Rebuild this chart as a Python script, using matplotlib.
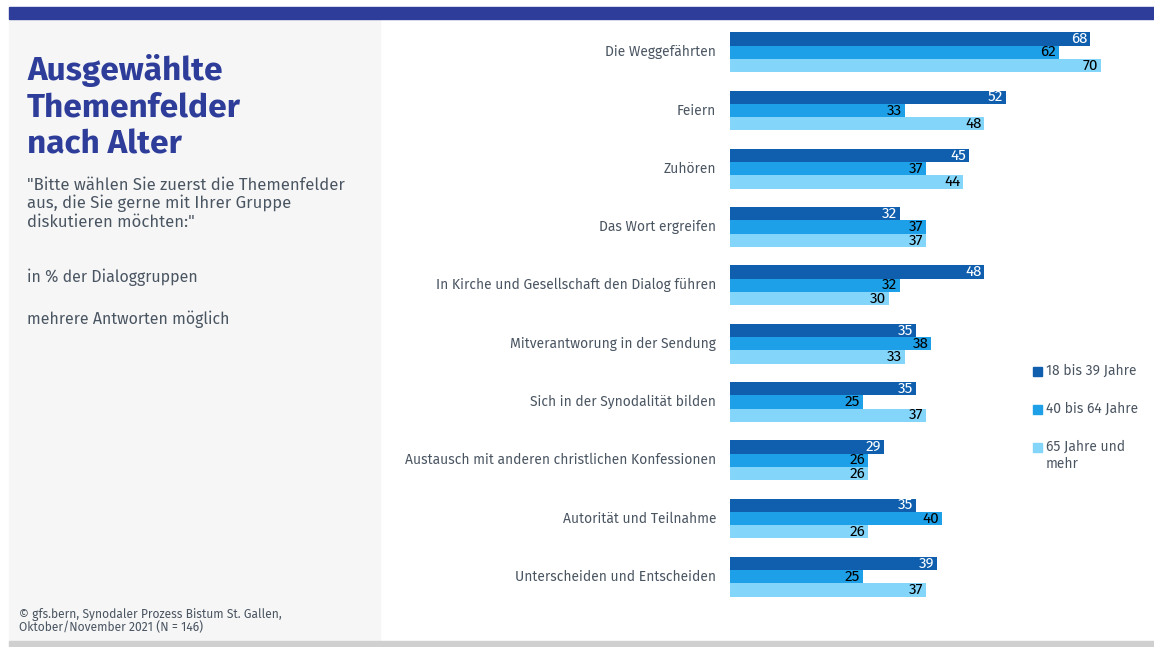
import matplotlib.pyplot as plt
from matplotlib.patches import Rectangle

categories = ["Die Weggefährten", "Feiern", "Zuhören", "Das Wort ergreifen",
              "In Kirche und Gesellschaft den Dialog führen",
              "Mitverantworung in der Sendung", "Sich in der Synodalität bilden",
              "Austausch mit anderen christlichen Konfessionen",
              "Autorität und Teilnahme", "Unterscheiden und Entscheiden"]
age_18_39 = [68, 52, 45, 32, 48, 35, 35, 29, 35, 39]
age_40_64 = [62, 33, 37, 37, 32, 38, 25, 26, 40, 25]
age_65 = [70, 48, 44, 37, 30, 33, 37, 26, 26, 37]
series_names = ["18 bis 39 Jahre", "40 bis 64 Jahre", "65 Jahre und\nmehr"]

colors = ["#0f5fae", "#1ea0e8", "#83d5fa"]
text_grey = "#4a5562"
title_blue = "#2e3d99"

plt.rcParams['font.family'] = ['Fira Sans', 'Lato', 'DejaVu Sans']

W, H = 1154, 647
fig = plt.figure(figsize=(W / 100, H / 100), dpi=100)
fig.patch.set_facecolor("white")

def px(x, y):
    return x / W, 1 - y / H

# background pieces
fig.patches.append(Rectangle(px(9, 641), 371 / W, 622 / H, transform=fig.transFigure,
                             color="#f6f6f6", zorder=0))
fig.patches.append(Rectangle(px(9, 19), (W - 9) / W, 12 / H, transform=fig.transFigure,
                             color=title_blue, zorder=0))
fig.patches.append(Rectangle(px(9, 647), (W - 9) / W, 6 / H, transform=fig.transFigure,
                             color="#d0d0d0", zorder=0))

# left panel text
fig.text(*px(27, 54), "Ausgewählte\nThemenfelder\nnach Alter", color=title_blue,
         fontsize=24, fontweight="bold", va="top", ha="left", linespacing=1.2)
fig.text(*px(27, 177), "\"Bitte wählen Sie zuerst die Themenfelder\naus, die Sie gerne mit Ihrer Gruppe\ndiskutieren möchten:\"",
         color=text_grey, fontsize=12, va="top", ha="left", linespacing=1.13)
fig.text(*px(27, 269), "in % der Dialoggruppen", color=text_grey, fontsize=11.5, va="top")
fig.text(*px(27, 311), "mehrere Antworten möglich", color=text_grey, fontsize=11.5, va="top")
fig.text(*px(19, 608), "© gfs.bern, Synodaler Prozess Bistum St. Gallen,\nOktober/November 2021 (N = 146)",
         color=text_grey, fontsize=8.7, va="top", linespacing=1.0)

# chart
ax = fig.add_axes([730 / W, 1 - 606 / H, 424 / W, 583 / H])
ax.set_xlim(0, 80)
ax.set_ylim(len(categories) - 0.5, -0.5)
ax.axis("off")

h = 0.228
series = [age_18_39, age_40_64, age_65]
label_colors = ["white", "black", "black"]
for k, vals in enumerate(series):
    ys = [i + (k - 1) * h for i in range(len(categories))]
    ax.barh(ys, vals, height=h, color=colors[k], label=series_names[k])
    for y, v in zip(ys, vals):
        ax.text(v - 0.5, y, str(v), ha="right", va="center", color=label_colors[k], fontsize=11)

for i, c in enumerate(categories):
    ax.text(-2.6, i, c, ha="right", va="center", color=text_grey, fontsize=10)

# legend
leg_y = [371, 409, 447]
for k in range(3):
    fig.patches.append(Rectangle(px(1033, leg_y[k] + 5), 9 / W, 9 / H,
                                 transform=fig.transFigure, color=colors[k]))
    fig.text(*px(1046, leg_y[k] - 8), series_names[k], color=text_grey, fontsize=10,
             va="top", ha="left", linespacing=1.35)

fig.savefig("out.png", dpi=100)
